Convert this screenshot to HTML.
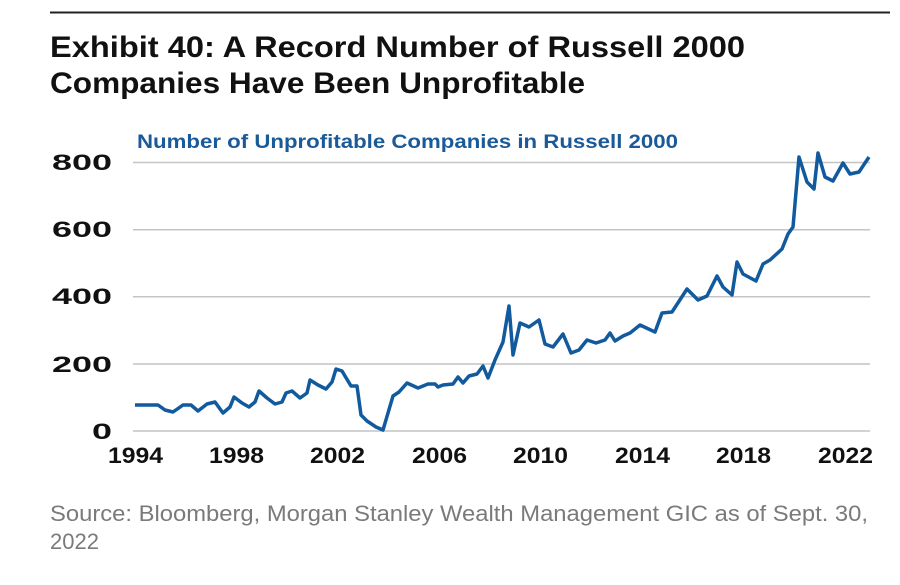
<!DOCTYPE html>
<html><head><meta charset="utf-8"><style>body{margin:0;background:#fff}svg{display:block}</style></head>
<body>
<svg width="900" height="585" xmlns="http://www.w3.org/2000/svg" font-family="Liberation Sans, sans-serif">
<rect width="900" height="585" fill="#fff"/>
<line x1="50" y1="12.5" x2="890" y2="12.5" stroke="#222" stroke-width="2"/>
<text x="50" y="57" font-size="30" font-weight="bold" fill="#111" textLength="695" lengthAdjust="spacingAndGlyphs">Exhibit 40: A Record Number of Russell 2000</text>
<text x="50" y="93" font-size="30" font-weight="bold" fill="#111" textLength="535" lengthAdjust="spacingAndGlyphs">Companies Have Been Unprofitable</text>
<text x="137" y="148" font-size="19" font-weight="bold" fill="#1b5a98" textLength="541" lengthAdjust="spacingAndGlyphs">Number of Unprofitable Companies in Russell 2000</text>
<g stroke="#c4c4c4" stroke-width="1.5">
<line x1="133" y1="162.5" x2="870" y2="162.5"/>
<line x1="133" y1="229.7" x2="870" y2="229.7"/>
<line x1="133" y1="296.8" x2="870" y2="296.8"/>
<line x1="133" y1="364" x2="870" y2="364"/>
<line x1="133" y1="431" x2="870" y2="431"/>
</g>
<g font-size="22" font-weight="bold" fill="#111">
<text x="52" y="170" textLength="60" lengthAdjust="spacingAndGlyphs">800</text>
<text x="52" y="237" textLength="60" lengthAdjust="spacingAndGlyphs">600</text>
<text x="52" y="304" textLength="60" lengthAdjust="spacingAndGlyphs">400</text>
<text x="52" y="372" textLength="60" lengthAdjust="spacingAndGlyphs">200</text>
<text x="92" y="439" textLength="20" lengthAdjust="spacingAndGlyphs">0</text>
</g>
<g font-size="22" font-weight="bold" fill="#111">
<text x="108" y="463" textLength="55" lengthAdjust="spacingAndGlyphs">1994</text>
<text x="209" y="463" textLength="55" lengthAdjust="spacingAndGlyphs">1998</text>
<text x="310" y="463" textLength="55" lengthAdjust="spacingAndGlyphs">2002</text>
<text x="412" y="463" textLength="55" lengthAdjust="spacingAndGlyphs">2006</text>
<text x="513" y="463" textLength="55" lengthAdjust="spacingAndGlyphs">2010</text>
<text x="615" y="463" textLength="55" lengthAdjust="spacingAndGlyphs">2014</text>
<text x="716" y="463" textLength="55" lengthAdjust="spacingAndGlyphs">2018</text>
<text x="818" y="463" textLength="55" lengthAdjust="spacingAndGlyphs">2022</text>
</g>
<polyline fill="none" stroke="#115a9d" stroke-width="3.5" stroke-linejoin="round" points="135,405 158,405 165,410 173,412 183,405 191,405 198,411 207,404 215,402 223,413 230,407 234,397 242,403 249,407 255,402 259,391 267,398 275,404 282,402 286,393 292,391 300,398 307,393 310,380 318,385 326,389 332,382 336,369 342,371 351,386 357,386 361,415 367,421 376,427 383,430 393,396 399,392 407,383 418,388 428,384 435,384 438,387 443,385 453,384 458,377 463,383 469,376 477,374 483,366 488,378 495,360 503,342 509,306 513,355 520,323 529,327 539,320 545,344 553,347 563,334 571,353 579,350 587,340 596,343 605,340 610,333 615,341 623,336 630,333 640,325 655,332 662,313 672,312 687,289 698,300 707,296 717,276 723,287 732,295 737,262 743,274 756,281 763,264 770,260 782,249 788,234 793,227 799,157 807,182 814,189 818,153 825,177 833,181 843,163 850,174 859,172 869,157"/>
<text x="50" y="521" font-size="22" fill="#7a7a7a" textLength="818" lengthAdjust="spacingAndGlyphs">Source: Bloomberg, Morgan Stanley Wealth Management GIC as of Sept. 30,</text>
<text x="50" y="549" font-size="22" fill="#7a7a7a">2022</text>
</svg>
</body></html>
